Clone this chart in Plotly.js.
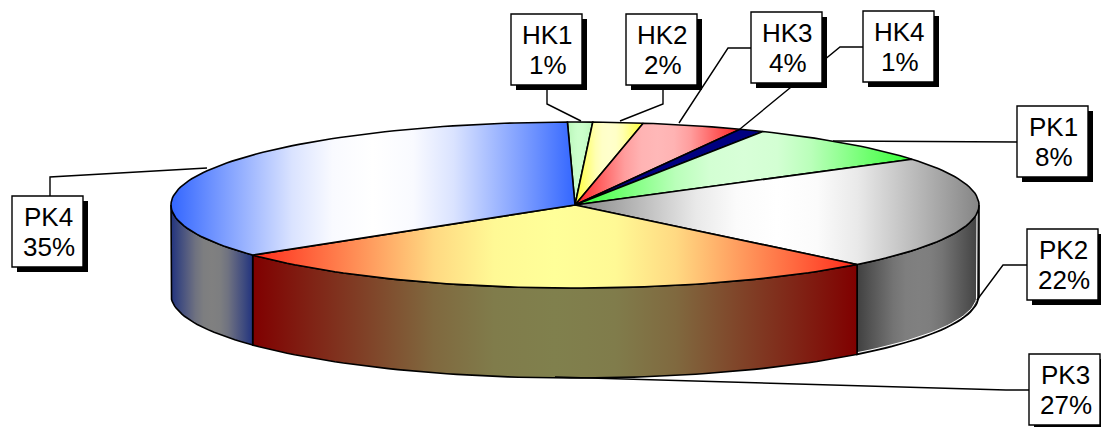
<!DOCTYPE html>
<html>
<head>
<meta charset="utf-8">
<script src="https://cdn.plot.ly/plotly-3.0.1.min.js"></script>
<style>html,body{margin:0;padding:0;background:#fff}#chart{width:1101px;height:427px}</style>
</head>
<body>
<div id="chart"></div>
<script>
// Share of each category, in percent, clockwise from the top of the pie
const categories = ['HK1', 'HK2', 'HK3', 'HK4', 'PK1', 'PK2', 'PK3', 'PK4'];
const shares = [1, 2, 4, 1, 8, 22, 27, 35];

// Horizontal gradient of each slice's top face: edge colour, middle colour
const topEdge = ['#b8f5b8', '#ffff33', '#ff2020', '#000080', '#33ff33', '#858585', '#ff2a1a', '#3366ff'];
const topMiddle = ['#ccffcc', '#ffffcc', '#ffb8b8', '#000080', '#d8ffd8', '#ffffff', '#ffff99', '#ffffff'];
// Same for the outer wall
const wallEdge = ['#000000', '#000000', '#000000', '#000000', '#000000', '#404040', '#800000', '#22337f'];
const wallMiddle = ['#000000', '#000000', '#000000', '#000000', '#000000', '#808080', '#80804d', '#808080'];

// Tilted-disc geometry in pixels
const cx = 575, cy = 205, rx = 404, ry = 83, depth = 90;
const startShare = -0.3;
const deg = Math.PI / 180;

const px = (a, r) => cx + r * Math.sin(a * deg);
const py = (a, drop, r) => cy - r * Math.cos(a * deg) + drop;

function arc(a0, a1, drop, inset) {
  const d = inset || 0;
  const n = Math.max(2, Math.ceil(Math.abs(a1 - a0) / 1.5));
  const xs = [], ys = [];
  for (let i = 0; i <= n; i++) {
    const a = a0 + (a1 - a0) * i / n;
    xs.push(px(a, rx - d));
    ys.push(py(a, drop, ry - d));
  }
  return [xs, ys];
}

// Blend from the edge colour to the middle colour, easing off towards the centre
const easePos = [0, 0.2, 0.4, 0.6, 0.8, 1];
const easeMix = [0, 0.28, 0.55, 0.82, 0.97, 1];

function rgb(hex) {
  return [1, 3, 5].map(k => parseInt(hex.slice(k, k + 2), 16));
}
function mix(c0, c1, t) {
  const p = rgb(c0), q = rgb(c1);
  return 'rgb(' + p.map((v, k) => Math.round(v + (q[k] - v) * t)).join(',') + ')';
}
function gradient(edge, middle, xs) {
  const scale = [];
  easePos.forEach((p, k) => scale.push([p / 2, mix(edge, middle, easeMix[k])]));
  for (let k = easePos.length - 2; k >= 0; k--) {
    scale.push([1 - easePos[k] / 2, mix(edge, middle, easeMix[k])]);
  }
  return {type: 'horizontal', start: Math.min(...xs), stop: Math.max(...xs), colorscale: scale};
}

const outline = {color: '#000', width: 1.6, shape: 'linear'};
const walls = [], tops = [];
let acc = startShare;

categories.forEach((name, i) => {
  const a0 = acc * 3.6, a1 = (acc + shares[i]) * 3.6;
  acc += shares[i];

  // Outer wall only shows on the front half of the disc
  const w0 = Math.max(a0, 90), w1 = Math.min(a1, 270);
  if (w1 > w0) {
    const [ux, uy] = arc(w0, w1, 0);
    const [lx, ly] = arc(w1, w0, depth);
    const xs = ux.concat(lx, ux[0]), ys = uy.concat(ly, uy[0]);
    walls.push({
      type: 'scatter', mode: 'lines', x: xs, y: ys, fill: 'toself',
      fillgradient: gradient(wallEdge[i], wallMiddle[i], xs),
      line: outline, hoverinfo: 'skip', showlegend: false
    });
    // Bright rim just inside the lower edge of the right-hand wall
    if (w0 === 90) {
      const [hx, hy] = arc(90, w1, depth, 2);
      walls.push({
        type: 'scatter', mode: 'lines',
        x: [px(90, rx - 2)].concat(hx), y: [cy + 3].concat(hy),
        line: {color: '#fff', width: 1}, hoverinfo: 'skip', showlegend: false
      });
    }
  }

  const [ax, ay] = arc(a0, a1, 0);
  const xs = [cx].concat(ax, cx), ys = [cy].concat(ay, cy);
  tops.push({
    type: 'scatter', mode: 'lines', x: xs, y: ys, fill: 'toself',
    fillgradient: gradient(topEdge[i], topMiddle[i], xs),
    line: outline, hoverinfo: 'skip', showlegend: false
  });
});

// Callout boxes: left, top (pixels), one per category
const boxLeft = [511, 626, 751, 863, 1017, 1027, 1029, 12];
const boxTop = [14, 14, 12, 11, 106, 229, 354, 196];
const boxW = 71, boxH = 71, shadow = 5;

// Elbowed leader lines from each box to its slice
const leaders = [
  'M547,85 L547,104 L581,121',
  'M663,85 L663,104 L620,121',
  'M751,48 L728,48 L679,123',
  'M863,47 L840,47 L740,129',
  'M1017,142 L833,141',
  'M1027,265 L1003,265 L977,300',
  'M1029,390 L1006,390 L555,377',
  'M50,196 L50,177 L207,168'
];

const shapes = [];
const annotations = [];
leaders.forEach(path => shapes.push({
  type: 'path', path, xref: 'x', yref: 'y', layer: 'above',
  line: {color: '#000', width: 1.4}
}));
categories.forEach((name, i) => {
  const l = boxLeft[i], t = boxTop[i];
  shapes.push({
    type: 'rect', xref: 'x', yref: 'y', layer: 'above',
    x0: l + shadow, x1: l + boxW + shadow, y0: t + shadow, y1: t + boxH + shadow,
    fillcolor: '#000', line: {width: 0}
  });
  shapes.push({
    type: 'rect', xref: 'x', yref: 'y', layer: 'above',
    x0: l, x1: l + boxW, y0: t, y1: t + boxH,
    fillcolor: '#fff', line: {color: '#000', width: 1.4}
  });
  [[name, 20], [shares[i] + '%', 50]].forEach(([text, dy]) => annotations.push({
    text, xref: 'x', yref: 'y', x: l + boxW / 2 + 1, y: t + dy + 1,
    xanchor: 'center', yanchor: 'middle', showarrow: false,
    font: {family: '"Liberation Sans", Arial, sans-serif', size: 26, color: '#000'}
  }));
});

const hiddenAxis = {visible: false, fixedrange: true};
Plotly.newPlot('chart', walls.concat(tops), {
  width: 1101, height: 427,
  margin: {l: 0, r: 0, t: 0, b: 0},
  paper_bgcolor: '#fff', plot_bgcolor: '#fff',
  xaxis: Object.assign({range: [0, 1101]}, hiddenAxis),
  yaxis: Object.assign({range: [427, 0]}, hiddenAxis),
  shapes, annotations, showlegend: false
}, {displayModeBar: false, staticPlot: true});
</script>
</body>
</html>
